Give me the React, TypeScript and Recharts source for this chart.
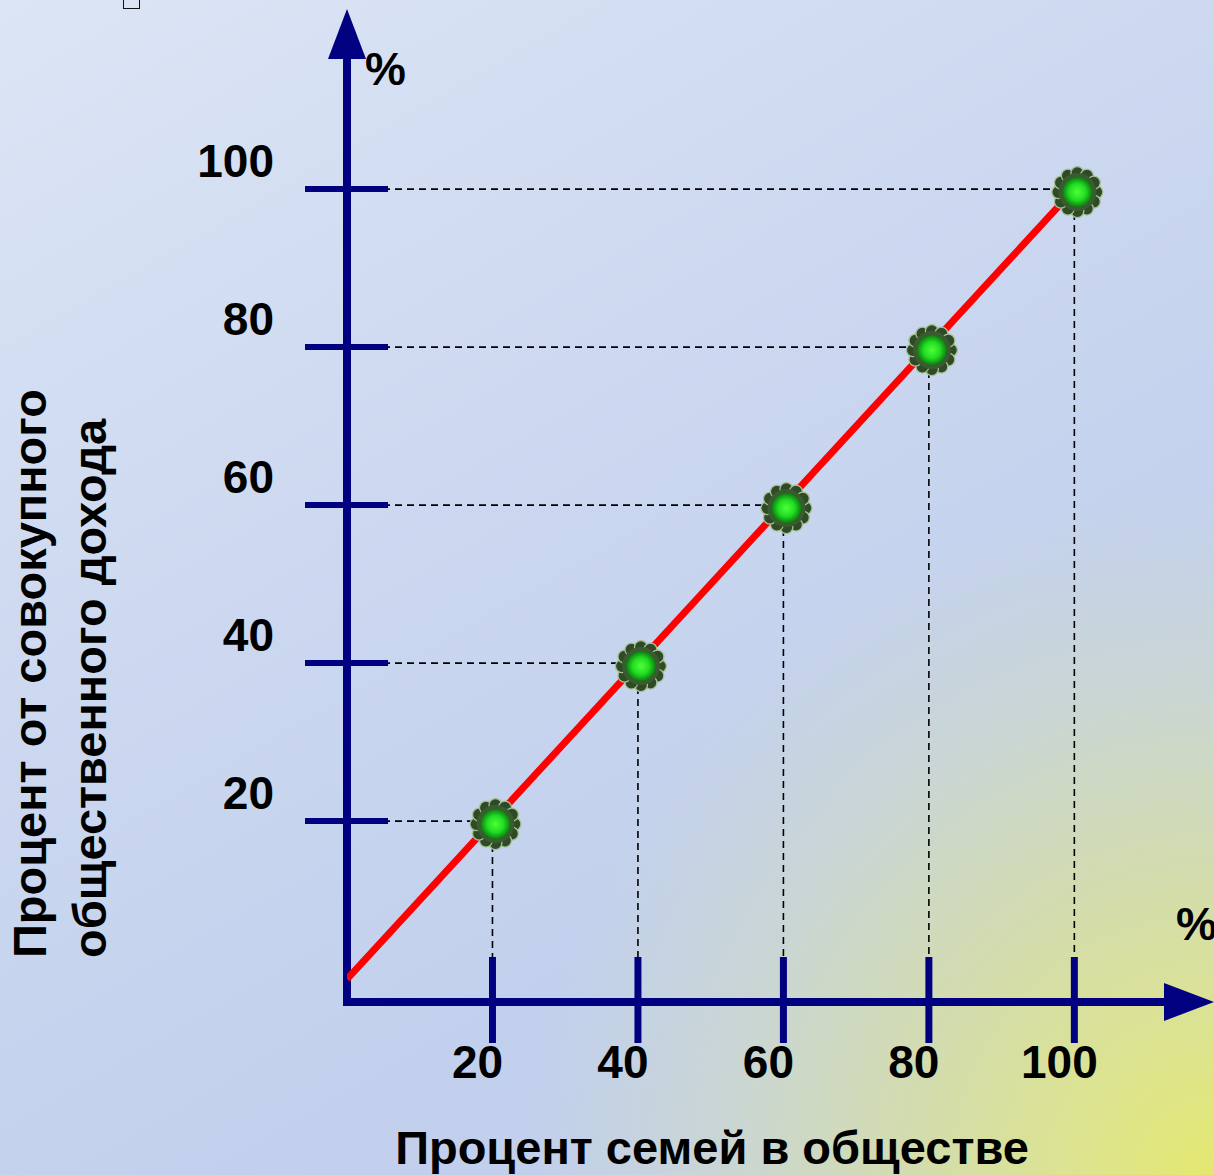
import React from "react";
import { ComposedChart, Line, XAxis, YAxis, ReferenceLine } from "recharts";

// percent of families (x) and percent of total income (y): line of equality
const families = [0, 20, 40, 60, 80, 100];
const income = [0, 20, 40, 60, 80, 100];
const xTicks = [20, 40, 60, 80, 100];
const yTicks = [20, 40, 60, 80, 100];

const data = families.map((x, i) => ({ x, y: income[i] }));

const navy = "#000080";
const font = "'Liberation Sans', Arial, sans-serif";
const X_MAX = 119.2;
const Y_MIN = -2.9;
const Y_MAX = 122.8;

const XTick = ({ x, y, payload }: any) => (
  <g>
    <line x1={x} x2={x} y1={y - 45} y2={y + 41} stroke={navy} strokeWidth={7} />
    <text x={x - 15} y={y + 76} textAnchor="middle" fontSize={46} fontWeight="bold" fontFamily={font} fill="#000">
      {payload.value}
    </text>
  </g>
);

const YTick = ({ x, y, payload }: any) => (
  <g>
    <line x1={x - 42} x2={x + 41} y1={y} y2={y} stroke={navy} strokeWidth={6} />
    <text x={x - 73} y={y - 12} textAnchor="end" fontSize={46} fontWeight="bold" fontFamily={font} fill="#000">
      {payload.value}
    </text>
  </g>
);

// axis line with an arrow head at the far end
const Arrow = ({ x1, y1, x2, y2 }: any) => {
  const len = Math.hypot(x2 - x1, y2 - y1) || 1;
  const dx = (x2 - x1) / len;
  const dy = (y2 - y1) / len;
  const L = 50;
  const W = 19;
  const bx = x2 - dx * L;
  const by = y2 - dy * L;
  return (
    <g>
      <line x1={x1 - dx * 4} y1={y1 - dy * 4} x2={bx + dx * 2} y2={by + dy * 2} stroke={navy} strokeWidth={8} />
      <polygon
        points={`${bx - dy * W},${by + dx * W} ${bx + dy * W},${by - dx * W} ${x2},${y2}`}
        fill={navy}
      />
    </g>
  );
};

const Gear = ({ cx, cy, id }: any) => {
  const bumps = Array.from({ length: 12 }, (_, i) => (i * Math.PI * 2) / 12);
  return (
    <g>
      <defs>
        <radialGradient id={`g${id}`} cx="50%" cy="50%" r="50%">
          <stop offset="0%" stopColor="#4dff3a" />
          <stop offset="55%" stopColor="#22dd22" />
          <stop offset="100%" stopColor="#0e7a12" />
        </radialGradient>
      </defs>
      {bumps.map((a, i) => (
        <circle
          key={i}
          cx={cx + Math.cos(a) * 19}
          cy={cy + Math.sin(a) * 19}
          r={6.5}
          fill="#2e4a26"
          stroke="#a6c294"
          strokeWidth={1.3}
        />
      ))}
      <circle cx={cx} cy={cy} r={19} fill="#3a5a30" />
      <circle cx={cx} cy={cy} r={15} fill={`url(#g${id})`} />
    </g>
  );
};

const renderDot = (props: any) => {
  const { cx, cy, index } = props;
  if (index === 0) return <g key="origin" />;
  return <Gear key={`dot-${index}`} cx={cx + 3} cy={cy + 3} id={index} />;
};

const textStyle: React.CSSProperties = {
  position: "absolute",
  fontFamily: font,
  fontWeight: "bold",
  color: "#000",
  whiteSpace: "pre",
};

export default function App() {
  return (
    <div
      style={{
        position: "absolute",
        left: 0,
        top: 0,
        width: 1214,
        height: 1175,
        overflow: "hidden",
        background:
          "radial-gradient(circle 680px at 100% 100%, #e4e870 0%, #dce392 22%, #d3dcae 45%, #cad6d4 72%, rgba(196,210,236,0) 100%), linear-gradient(150deg, #dce5f5 0%, #ccd8f0 40%, #c2d0ed 70%, #bfceec 100%)",
      }}
    >
      <div
        style={{
          position: "absolute",
          left: 123,
          top: -6,
          width: 15,
          height: 13,
          border: "1.5px solid #111",
        }}
      />
      <ComposedChart width={1214} height={1175} data={data} margin={{ top: 9, right: 0, bottom: 0, left: 0 }}>
        <XAxis
          type="number"
          dataKey="x"
          domain={[0, X_MAX]}
          ticks={xTicks}
          allowDataOverflow
          axisLine={false}
          tickLine={false}
          tickSize={0}
          tickMargin={0}
          height={173}
          tick={<XTick />}
        />
        <YAxis
          type="number"
          domain={[Y_MIN, Y_MAX]}
          ticks={yTicks}
          allowDataOverflow
          axisLine={false}
          tickLine={false}
          tickSize={0}
          tickMargin={0}
          width={347}
          tick={<YTick />}
        />
        {xTicks.map((v, i) => (
          <ReferenceLine
            key={`h${v}`}
            segment={[
              { x: 0, y: income[i + 1] },
              { x: families[i + 1], y: income[i + 1] },
            ]}
            stroke="#000"
            strokeWidth={1.6}
            strokeDasharray="7 5"
          />
        ))}
        {xTicks.map((v, i) => (
          <ReferenceLine
            key={`v${v}`}
            segment={[
              { x: families[i + 1], y: income[i + 1] },
              { x: families[i + 1], y: Y_MIN },
            ]}
            stroke="#000"
            strokeWidth={1.6}
            strokeDasharray="7 5"
          />
        ))}
        <ReferenceLine segment={[{ x: 0, y: Y_MIN }, { x: 0, y: Y_MAX }]} shape={<Arrow />} />
        <ReferenceLine segment={[{ x: 0, y: Y_MIN }, { x: X_MAX, y: Y_MIN }]} shape={<Arrow />} />
        <Line
          type="linear"
          dataKey="y"
          stroke="#ff0000"
          strokeWidth={7}
          dot={renderDot}
          activeDot={false}
          isAnimationActive={false}
        />
      </ComposedChart>
      <div style={{ ...textStyle, left: 365, top: 46, fontSize: 46, lineHeight: "46px" }}>%</div>
      <div style={{ ...textStyle, left: 1176, top: 901, fontSize: 46, lineHeight: "46px" }}>%</div>
      <div
        style={{
          ...textStyle,
          left: 712,
          top: 1124,
          fontSize: 47,
          lineHeight: "47px",
          transform: "translateX(-50%)",
        }}
      >
        Процент семей в обществе
      </div>
      <div
        style={{
          ...textStyle,
          left: 0,
          top: 958,
          fontSize: 47,
          lineHeight: "60px",
          transformOrigin: "0 0",
          transform: "rotate(-90deg)",
        }}
      >
        {"Процент от совокупного\nобщественного дохода"}
      </div>
    </div>
  );
}
